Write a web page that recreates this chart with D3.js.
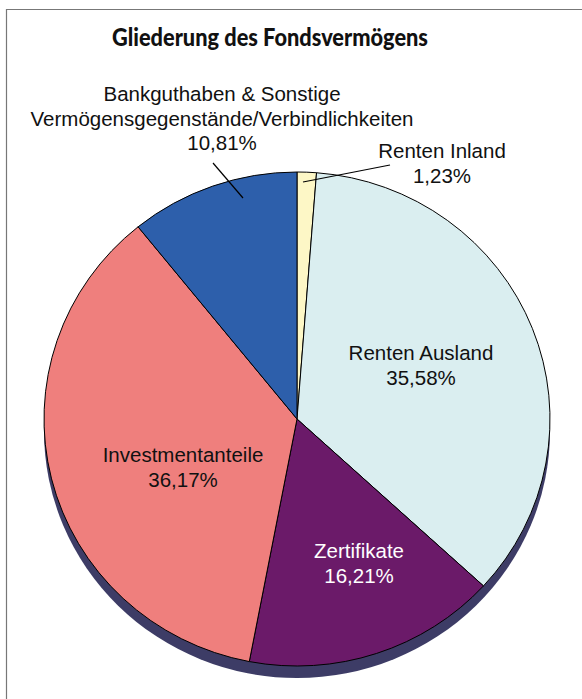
<!DOCTYPE html>
<html>
<head>
<meta charset="utf-8">
<script src="https://cdn.jsdelivr.net/npm/d3@7"></script>
<style>
  body { margin: 0; background: #fff; }
  svg { display: block; }
</style>
</head>
<body>
<div id="chart"></div>
<script>
// data, clockwise from 12 o'clock
var categories = ["Renten Inland", "Renten Ausland", "Zertifikate", "Investmentanteile", "Bankguthaben & Sonstige Vermögensgegenstände/Verbindlichkeiten"];
var values = [1.23, 35.58, 16.21, 36.17, 10.81];
var labelLines = [
  ["Renten Inland"],
  ["Renten Ausland"],
  ["Zertifikate"],
  ["Investmentanteile"],
  ["Bankguthaben & Sonstige", "Vermögensgegenstände/Verbindlichkeiten"]
];
var colors = ["#fdf7c6", "#daeef0", "#6b1a69", "#ef7f7d", "#2d5fab"];
var textColors = ["#111", "#111", "#fff", "#111", "#111"];

var width = 582, height = 699;
var cx = 297, cy = 419, rx = 253, ry = 247;

// label anchors (center of first line), relative to pie center
var labelPos = [
  {x: 145, y: -261},
  {x: 124, y: -59},
  {x: 62, y: 139},
  {x: -114, y: 43},
  {x: -75, y: -318}
];
// leader lines for the outside labels [from label, to slice]
var leaders = [
  [[93, -254], [6, -237]],
  null, null, null,
  [[-84, -256], [-54, -221]]
];

var fmt = function(v) { return d3.format(".2f")(v).replace(".", ",") + "%"; };

var svg = d3.select("#chart").append("svg")
    .attr("width", width)
    .attr("height", height);

// frame
svg.append("path")
    .attr("d", "M6.5," + height + "V9.5H" + width)
    .attr("fill", "none")
    .attr("stroke", "#777")
    .attr("stroke-width", 1.2);

// title
svg.append("text")
    .attr("x", 270)
    .attr("y", 46)
    .attr("text-anchor", "middle")
    .attr("textLength", 316)
    .attr("lengthAdjust", "spacingAndGlyphs")
    .style("font-family", "Lato, 'Open Sans', sans-serif")
    .style("font-weight", "900")
    .style("font-size", "25.5px")
    .attr("fill", "#111")
    .text("Gliederung des Fondsvermögens");

var pie = d3.pie().sort(null).value(function(d) { return d; });
var arc = d3.arc().innerRadius(0).outerRadius(rx);
var arcs = pie(values);

// shadow under the pie
svg.append("ellipse")
    .attr("cx", cx)
    .attr("cy", cy + 12)
    .attr("rx", rx)
    .attr("ry", ry)
    .attr("fill", "#3d3c66");

var g = svg.append("g")
    .attr("transform", "translate(" + cx + "," + cy + ") scale(1," + (ry / rx) + ")");

g.selectAll("path")
    .data(arcs)
    .enter().append("path")
    .attr("d", arc)
    .attr("fill", function(d, i) { return colors[i]; })
    .attr("stroke", "#000")
    .attr("stroke-width", 1)
    .attr("vector-effect", "non-scaling-stroke");

var lg = svg.append("g")
    .attr("transform", "translate(" + cx + "," + cy + ")");

// leader lines
leaders.forEach(function(l) {
  if (!l) return;
  lg.append("line")
      .attr("x1", l[0][0]).attr("y1", l[0][1])
      .attr("x2", l[1][0]).attr("y2", l[1][1])
      .attr("stroke", "#000")
      .attr("stroke-width", 1.2);
});

// labels
values.forEach(function(v, i) {
  var lines = labelLines[i].concat([fmt(v)]);
  var t = lg.append("text")
      .attr("text-anchor", "middle")
      .attr("fill", textColors[i])
      .style("font-family", "'Liberation Sans', Arial, sans-serif")
      .style("font-size", "20.5px");
  lines.forEach(function(s, k) {
    t.append("tspan")
        .attr("x", labelPos[i].x)
        .attr("y", labelPos[i].y + k * 24.5)
        .text(s);
  });
});
</script>
</body>
</html>
